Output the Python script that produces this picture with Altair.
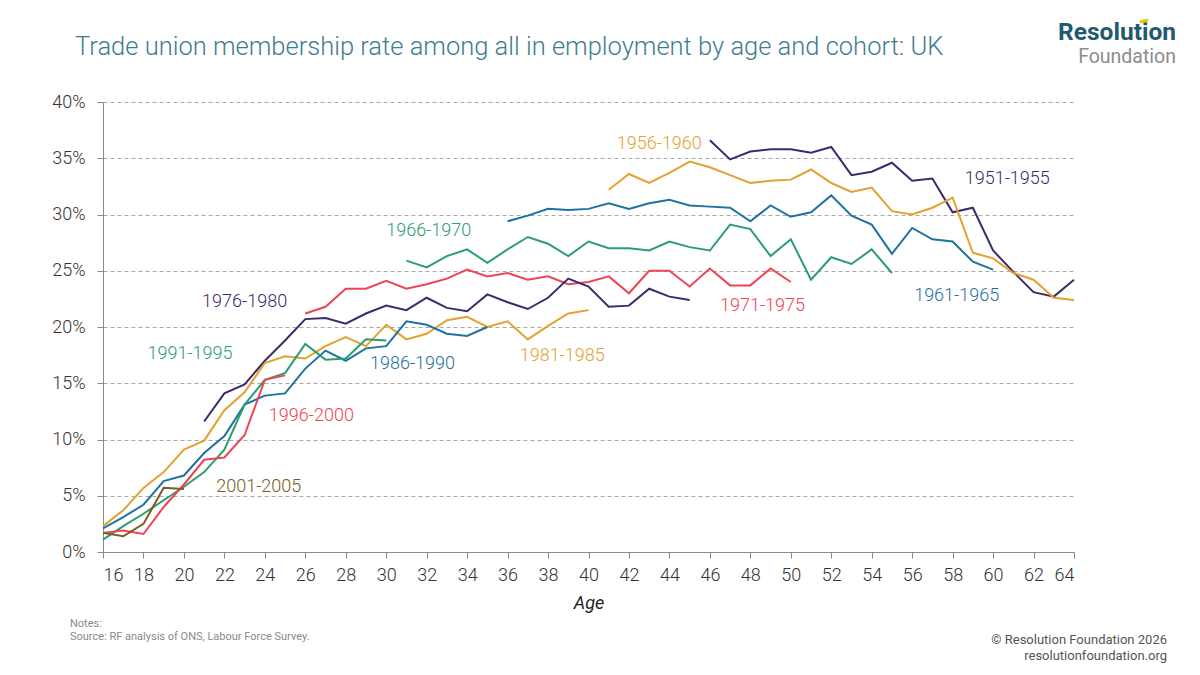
import altair as alt
import pandas as pd

# ---- data (membership rate, %, by single year of age) ----
cohorts = ["1951-1955", "1956-1960", "1961-1965", "1966-1970", "1971-1975",
           "1976-1980", "1981-1985", "1986-1990", "1991-1995", "1996-2000", "2001-2005"]
colors = ["#3a2b6c", "#e3a12f", "#1f72a0", "#2a9e70", "#ee4455",
          "#3a2b6c", "#e3a12f", "#1f72a0", "#2a9e70", "#ee4455", "#7b5a25"]
start_age = [46, 41, 36, 31, 26, 21, 16, 16, 16, 16, 16]

c1951 = [36.6, 34.9, 35.6, 35.8, 35.8, 35.5, 36.0, 33.5, 33.8, 34.6, 33.0, 33.2, 30.2, 30.6,
         26.8, 24.9, 23.1, 22.7, 24.2]
c1956 = [32.2, 33.6, 32.8, 33.7, 34.7, 34.2, 33.5, 32.8, 33.0, 33.1, 34.0, 32.8, 32.0, 32.4,
         30.3, 30.0, 30.6, 31.5, 26.6, 26.1, 24.8, 24.2, 22.6, 22.4]
c1961 = [29.4, 29.9, 30.5, 30.4, 30.5, 31.0, 30.5, 31.0, 31.3, 30.8, 30.7, 30.6, 29.4, 30.8,
         29.8, 30.2, 31.7, 29.9, 29.1, 26.5, 28.8, 27.8, 27.6, 25.8, 25.1]
c1966 = [25.9, 25.3, 26.3, 26.9, 25.7, 26.9, 28.0, 27.4, 26.3, 27.6, 27.0, 27.0, 26.8, 27.6,
         27.1, 26.8, 29.1, 28.7, 26.3, 27.8, 24.2, 26.2, 25.6, 26.9, 24.8]
c1971 = [21.2, 21.8, 23.4, 23.4, 24.1, 23.4, 23.8, 24.3, 25.1, 24.5, 24.8, 24.2, 24.5, 23.8,
         24.0, 24.5, 23.0, 25.0, 25.0, 23.6, 25.2, 23.7, 23.7, 25.2, 24.0]
c1976 = [11.6, 14.1, 14.9, 17.0, 18.8, 20.7, 20.8, 20.3, 21.2, 21.9, 21.5, 22.6, 21.7, 21.4,
         22.9, 22.2, 21.6, 22.6, 24.3, 23.6, 21.8, 21.9, 23.4, 22.7, 22.4]
c1981 = [2.3, 3.7, 5.7, 7.1, 9.1, 9.9, 12.6, 14.2, 16.8, 17.4, 17.2, 18.3, 19.1, 18.3, 20.2,
         18.9, 19.4, 20.6, 20.9, 20.0, 20.5, 18.9, 20.1, 21.2, 21.5]
c1986 = [2.1, 3.1, 4.2, 6.3, 6.8, 8.8, 10.3, 13.1, 13.9, 14.1, 16.3, 17.9, 17.0, 18.1, 18.3,
         20.5, 20.2, 19.4, 19.2, 20.0]
c1991 = [1.1, 2.3, 3.4, 4.6, 5.8, 7.1, 9.1, 13.1, 15.3, 15.9, 18.5, 17.1, 17.2, 18.9, 18.8]
c1996 = [1.7, 1.9, 1.6, 4.0, 6.0, 8.2, 8.4, 10.4, 15.3, 15.7]
c2001 = [1.7, 1.4, 2.5, 5.7, 5.6]
series = [c1951, c1956, c1961, c1966, c1971, c1976, c1981, c1986, c1991, c1996, c2001]

# label anchor points (age, %)
label_age = [60.7, 43.5, 58.2, 32.1, 48.6, 23.0, 38.7, 31.3, 20.3, 26.3, 23.7]
label_pct = [33.2, 36.3, 22.8, 28.5, 21.9, 22.2, 17.4, 16.7, 17.6, 12.1, 5.8]

age_ticks = list(range(16, 65, 2))
pct_ticks = [0, 5, 10, 15, 20, 25, 30, 35, 40]

title = "Trade union membership rate among all in employment by age and cohort: UK"

rows = []
for name, a0, vals in zip(cohorts, start_age, series):
    for i, v in enumerate(vals):
        rows.append({"cohort": name, "age": a0 + i, "pct": v})
df = pd.DataFrame(rows)
lab = pd.DataFrame({"cohort": cohorts, "age": label_age, "pct": label_pct})

FONT = "Roboto"
W, H = 971, 450

xs = alt.X("age:Q", scale=alt.Scale(domain=[16, 64], nice=False),
           axis=alt.Axis(values=age_ticks, title="Age", grid=False, domain=True,
                         domainColor="#8a8a8a", tickColor="#8a8a8a", tickSize=6,
                         labelFontSize=18, labelColor="#333333", labelPadding=8,
                         labelFont=FONT, labelFontWeight=300,
                         titleFont=FONT, titleFontSize=18, titleFontStyle="italic",
                         titleFontWeight=400, titleColor="#222222", titlePadding=10))
ys = alt.Y("pct:Q", scale=alt.Scale(domain=[0, 40], nice=False),
           axis=alt.Axis(values=pct_ticks, title=None, grid=True, gridDash=[4, 3],
                         gridColor="#a8a8a8", gridWidth=1, domain=True,
                         domainColor="#8a8a8a", tickColor="#8a8a8a", tickSize=6,
                         labelFontSize=18, labelColor="#333333", labelPadding=12,
                         labelFont=FONT, labelFontWeight=300,
                         labelExpr="datum.value + '%'"))
col = alt.Color("cohort:N", scale=alt.Scale(domain=cohorts, range=colors), legend=None)

lines = alt.Chart(df).mark_line(strokeWidth=2).encode(
    x=xs, y=ys, color=col, detail="cohort:N")

labels = alt.Chart(lab).mark_text(font=FONT, fontSize=18, fontWeight=300,
                                  align="center", baseline="middle").encode(
    x="age:Q", y="pct:Q", text="cohort:N", color=col)

def txt(s, x, y, size, color, align="left", weight=400, style="normal"):
    return alt.Chart(pd.DataFrame({"t": [s]})).mark_text(
        font=FONT, fontSize=size, color=color, align=align, baseline="alphabetic",
        fontWeight=weight, fontStyle=style).encode(
        text="t:N", x=alt.value(x), y=alt.value(y))

title_t = txt(title, -28, -47, 25.5, "#3e7d8e", weight=300)
logo1 = txt("Resolution", 1073, -62, 24.5, "#22596f", align="right", weight=700)
logo2 = txt("Foundation", 1073, -39, 19.5, "#8c8c8c", align="right", weight=400)
accent = alt.Chart(pd.DataFrame({"a": [0]})).mark_rule(
    color="#f2c200", strokeWidth=3).encode(
    x=alt.value(1037), x2=alt.value(1045), y=alt.value(-80), y2=alt.value(-82))
note1 = txt("Notes:", -33, 525, 11, "#8a8a8a")
note2 = txt("Source: RF analysis of ONS, Labour Force Survey.", -33, 538, 11, "#8a8a8a")
copy1 = txt("\u00a9 Resolution Foundation 2026", 1064, 542, 13, "#555555", align="right")
copy2 = txt("resolutionfoundation.org", 1064, 558, 13, "#555555", align="right")

chart = alt.layer(lines, labels, title_t, logo1, logo2, accent, note1, note2, copy1, copy2).properties(
    width=W, height=H,
    autosize=alt.AutoSizeParams(type="none"),
    padding={"left": 95, "top": 94, "right": 103, "bottom": 112},
    background="white",
).configure_view(stroke=None)

chart.save("out.html", embed_options={"renderer": "svg", "actions": False})
